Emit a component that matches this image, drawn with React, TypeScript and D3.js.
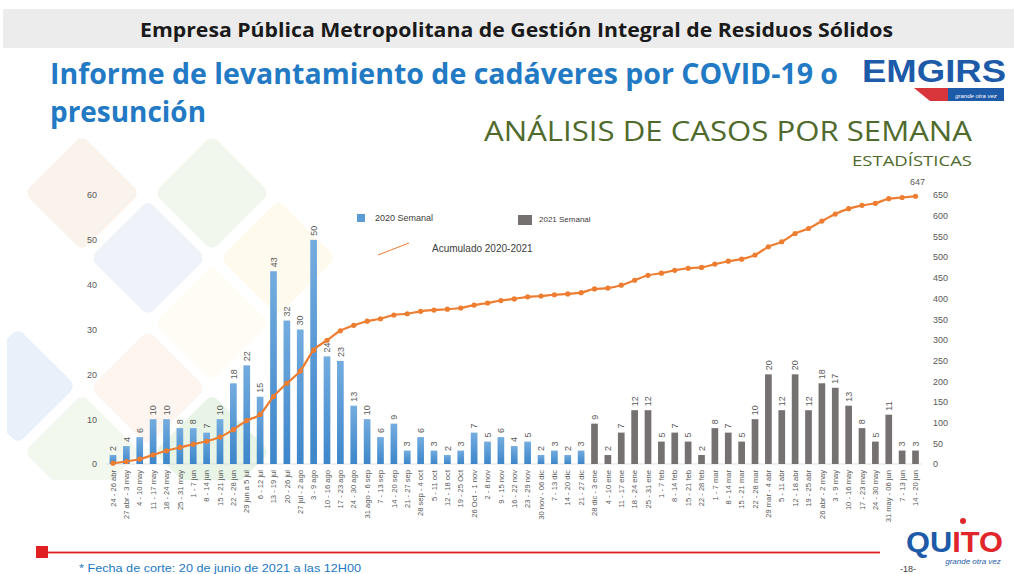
import { useEffect, useRef } from 'react';
import * as d3 from 'd3';

// weekly periods (x axis)
const weeks2020 = [
  '24 - 26 abr', '27 abr - 3 may', '4 - 10 may', '11 - 17 may', '18 - 24 may', '25 - 31 may',
  '1 - 7 jun', '8 - 14 jun', '15 - 21 jun', '22 - 28 jun', '29 jun a 5 jul', '6 - 12 jul',
  '13 - 19 jul', '20 - 26 jul', '27 jul - 2 ago', '3 - 9 ago', '10 - 16 ago', '17 - 23 ago',
  '24 - 30 ago', '31 ago - 6 sep', '7 - 13 sep', '14 - 20 sep', '21 - 27 sep', '28 sep - 4 oct',
  '5 - 11 oct', '12 - 18 oct', '19 - 25 Oct', '26 Oct - 1 nov', '2 - 8 nov', '9 - 15 nov',
  '16 - 22 nov', '23 - 29 nov', '30 nov - 06 dic', '7 - 13 dic', '14 - 20 dic', '21 - 27 dic',
];
const weeks2021 = [
  '28 dic - 3 ene', '4 - 10 ene', '11 - 17 ene', '18 - 24 ene', '25 - 31 ene', '1 - 7 feb',
  '8 - 14 feb', '15 - 21 feb', '22 - 28 feb', '1 - 7 mar', '8 - 14 mar', '15 - 21 mar',
  '22 - 28 mar', '29 mar - 4 abr', '5 - 11 abr', '12 - 18 abr', '19 - 25 abr', '26 abr - 2 may',
  '3 - 9 may', '10 - 16 may', '17 - 23 may', '24 - 30 may', '31 may - 06 jun', '7 - 13 jun',
  '14 - 20 jun',
];

const semanal2020 = [2, 4, 6, 10, 10, 8, 8, 7, 10, 18, 22, 15, 43, 32, 30, 50, 24, 23, 13, 10, 6, 9, 3, 6, 3, 2, 3, 7, 5, 6, 4, 5, 2, 3, 2, 3];
const semanal2021 = [9, 2, 7, 12, 12, 5, 7, 5, 2, 8, 7, 5, 10, 20, 12, 20, 12, 18, 17, 13, 8, 5, 11, 3, 3];

const acumulado = [
  2, 6, 12, 22, 32, 40, 48, 55, 65, 83, 105, 120, 163, 195, 225, 275, 299, 322, 335, 345, 351,
  360, 363, 369, 372, 374, 377, 384, 389, 395, 399, 404, 406, 409, 411, 414, 423, 425, 432, 444,
  456, 461, 468, 473, 475, 483, 490, 495, 505, 525, 537, 557, 569, 587, 604, 617, 625, 630, 641,
  644, 647,
];

const leftTicks = [0, 10, 20, 30, 40, 50, 60];
const rightTicks = d3.range(0, 651, 50);

// faint diamonds in the background
const diamonds = [
  { cx: 82, cy: 193, fill: '#faf3ec' },
  { cx: 212, cy: 193, fill: '#f2f7ee' },
  { cx: 148, cy: 258, fill: '#eff2f9' },
  { cx: 278, cy: 258, fill: '#fffaee' },
  { cx: 212, cy: 323, fill: '#fffcf5' },
  { cx: 148, cy: 388, fill: '#fdf5f0' },
  { cx: 18, cy: 386, fill: '#e8f0f9' },
  { cx: 82, cy: 452, fill: '#f3f8ef' },
  { cx: 212, cy: 452, fill: '#e8f4e6' },
];

const FONT = "'Open Sans', 'Liberation Sans', sans-serif";
const SMALL = "'Liberation Sans', 'DejaVu Sans', sans-serif";

export default function App() {
  const svgRef = useRef<SVGSVGElement>(null);

  useEffect(() => {
    const svg = d3.select(svgRef.current);
    svg.selectAll('*').remove();

    const width = 1014;
    const height = 574;
    svg.attr('width', width).attr('height', height).attr('viewBox', `0 0 ${width} ${height}`);

    const defs = svg.append('defs');
    const grad = defs.append('linearGradient').attr('id', 'blueGrad').attr('x1', 0).attr('y1', 0).attr('x2', 0).attr('y2', 1);
    grad.append('stop').attr('offset', '0%').attr('stop-color', '#74acdf');
    grad.append('stop').attr('offset', '100%').attr('stop-color', '#3d86ca');
    defs.append('clipPath').attr('id', 'bgClip').append('rect').attr('x', 7).attr('y', 130).attr('width', 400).attr('height', 350);

    svg.append('rect').attr('width', width).attr('height', height).attr('fill', '#ffffff');

    // background diamonds
    const bg = svg.append('g').attr('clip-path', 'url(#bgClip)');
    bg.selectAll('rect')
      .data(diamonds)
      .enter()
      .append('rect')
      .attr('x', -41)
      .attr('y', -41)
      .attr('width', 82)
      .attr('height', 82)
      .attr('rx', 8)
      .attr('fill', (d) => d.fill)
      .attr('transform', (d) => `translate(${d.cx},${d.cy}) rotate(45)`);

    // header band
    svg.append('rect').attr('x', 3).attr('y', 9).attr('width', 1011).attr('height', 39).attr('fill', '#ececec');
    svg.append('text')
      .attr('x', 140).attr('y', 37)
      .attr('textLength', 753).attr('lengthAdjust', 'spacingAndGlyphs')
      .style('font-family', FONT).style('font-size', '19px').style('font-weight', 700).style('fill', '#1a1a1a')
      .text('Empresa Pública Metropolitana de Gestión Integral de Residuos Sólidos');

    // titles
    svg.append('text')
      .attr('x', 50).attr('y', 84)
      .attr('textLength', 788).attr('lengthAdjust', 'spacingAndGlyphs')
      .style('font-family', FONT).style('font-size', '29px').style('font-weight', 700).style('fill', '#2279c4')
      .text('Informe de levantamiento de cadáveres por COVID-19 o');
    svg.append('text')
      .attr('x', 50).attr('y', 122)
      .attr('textLength', 156).attr('lengthAdjust', 'spacingAndGlyphs')
      .style('font-family', FONT).style('font-size', '29px').style('font-weight', 700).style('fill', '#2279c4')
      .text('presunción');
    svg.append('text')
      .attr('x', 484).attr('y', 141)
      .attr('textLength', 488).attr('lengthAdjust', 'spacingAndGlyphs')
      .style('font-family', FONT).style('font-size', '28px').style('font-weight', 400).style('fill', '#4f6a2c')
      .text('ANÁLISIS DE CASOS POR SEMANA');
    svg.append('text')
      .attr('x', 852).attr('y', 166)
      .attr('textLength', 120).attr('lengthAdjust', 'spacingAndGlyphs')
      .style('font-family', FONT).style('font-size', '14.5px').style('fill', '#4f6a2c')
      .text('ESTADÍSTICAS');

    // EMGIRS logo
    svg.append('text')
      .attr('x', 862).attr('y', 82)
      .attr('textLength', 144).attr('lengthAdjust', 'spacingAndGlyphs')
      .style('font-family', SMALL).style('font-size', '32px').style('font-weight', 700).style('fill', '#1d5aa8')
      .text('EMGIRS');
    svg.append('polygon').attr('points', '914,88 958,88 950,101 930,101').attr('fill', '#d8363a');
    svg.append('rect').attr('x', 948).attr('y', 88).attr('width', 56).attr('height', 13).attr('fill', '#1d5aa8');
    svg.append('text')
      .attr('x', 976).attr('y', 97.5).attr('text-anchor', 'middle')
      .style('font-family', SMALL).style('font-size', '6px').style('font-style', 'italic').style('fill', '#ffffff')
      .text('grande otra vez');

    // scales
    const categories = [...weeks2020, ...weeks2021];
    const values = [...semanal2020, ...semanal2021];
    const rows = categories.map((c, i) => ({ c, v: values[i], acc: acumulado[i], year: i < weeks2020.length ? 2020 : 2021 }));

    const x = d3.scaleBand().domain(categories).range([106.3, 922.2]).paddingInner(0.5).paddingOuter(0.25);
    const yL = d3.scaleLinear().domain([0, 60]).range([464, 195]);
    const yR = d3.scaleLinear().domain([0, 650]).range([464, 195]);
    const cx = (c: string) => (x(c) as number) + x.bandwidth() / 2;

    const plot = svg.append('g');

    // axes
    const axL = plot.append('g').attr('transform', 'translate(97,0)').call(d3.axisLeft(yL).tickValues(leftTicks).tickSize(0).tickPadding(0));
    axL.select('.domain').remove();
    axL.selectAll('text').style('font-family', SMALL).style('font-size', '9px').style('fill', '#595959');

    const axR = plot.append('g').attr('transform', 'translate(933,0)').call(d3.axisRight(yR).tickValues(rightTicks).tickSize(0).tickPadding(0));
    axR.select('.domain').remove();
    axR.selectAll('text').style('font-family', SMALL).style('font-size', '9px').style('fill', '#595959');

    plot.append('line').attr('x1', 106).attr('x2', 922).attr('y1', yL(0)).attr('y2', yL(0)).attr('stroke', '#d9d9d9').attr('stroke-width', 0.8);

    // bars
    plot.selectAll('.bar')
      .data(rows)
      .enter()
      .append('rect')
      .attr('class', 'bar')
      .attr('x', (d) => x(d.c) as number)
      .attr('width', x.bandwidth())
      .attr('y', (d) => yL(d.v))
      .attr('height', (d) => yL(0) - yL(d.v))
      .attr('fill', (d) => (d.year === 2020 ? 'url(#blueGrad)' : '#767171'));

    // bar value labels
    plot.selectAll('.vlabel')
      .data(rows)
      .enter()
      .append('text')
      .attr('class', 'vlabel')
      .attr('transform', (d) => `translate(${cx(d.c)},${yL(d.v) - 4}) rotate(-90)`)
      .attr('dy', '0.35em')
      .style('font-family', SMALL).style('font-size', '9px').style('fill', '#595959')
      .text((d) => d.v);

    // x labels
    plot.selectAll('.xlabel')
      .data(rows)
      .enter()
      .append('text')
      .attr('class', 'xlabel')
      .attr('transform', (d) => `translate(${cx(d.c)},470) rotate(-90)`)
      .attr('text-anchor', 'end')
      .attr('dy', '0.35em')
      .style('font-family', SMALL).style('font-size', '7.6px').style('fill', '#595959')
      .text((d) => d.c);

    // cumulative line
    const line = d3.line<(typeof rows)[number]>().x((d) => cx(d.c)).y((d) => yR(d.acc)).curve(d3.curveMonotoneX);
    plot.append('path').datum(rows).attr('d', line).attr('fill', 'none').attr('stroke', '#ed7d31').attr('stroke-width', 2.2);
    plot.selectAll('.dot')
      .data(rows)
      .enter()
      .append('circle')
      .attr('class', 'dot')
      .attr('cx', (d) => cx(d.c))
      .attr('cy', (d) => yR(d.acc))
      .attr('r', 2.6)
      .attr('fill', '#ed7d31');
    const last = rows[rows.length - 1];
    plot.append('text')
      .attr('x', cx(last.c) + 2).attr('y', yR(last.acc) - 11).attr('text-anchor', 'middle')
      .style('font-family', SMALL).style('font-size', '9px').style('fill', '#595959')
      .text(last.acc);

    // legend
    const lg = svg.append('g').style('font-family', SMALL);
    lg.append('rect').attr('x', 357).attr('y', 214).attr('width', 8).attr('height', 8).attr('fill', '#5b9bd5');
    lg.append('text').attr('x', 375).attr('y', 221).style('font-size', '9px').style('fill', '#404040').text('2020 Semanal');
    lg.append('rect').attr('x', 518).attr('y', 215).attr('width', 14).attr('height', 10).attr('fill', '#767171');
    lg.append('text').attr('x', 539).attr('y', 222).style('font-size', '8px').style('fill', '#404040').text('2021 Semanal');
    lg.append('line').attr('x1', 378).attr('y1', 255).attr('x2', 409).attr('y2', 243).attr('stroke', '#ed7d31').attr('stroke-width', 1);
    lg.append('text').attr('x', 432).attr('y', 252).style('font-size', '10px').style('fill', '#404040').text('Acumulado 2020-2021');

    // footer
    svg.append('line').attr('x1', 45).attr('x2', 880).attr('y1', 552.5).attr('y2', 552.5).attr('stroke', '#f3a3a3').attr('stroke-width', 3);
    svg.append('line').attr('x1', 45).attr('x2', 880).attr('y1', 552.5).attr('y2', 552.5).attr('stroke', '#e02020').attr('stroke-width', 1.2);
    svg.append('rect').attr('x', 36).attr('y', 546).attr('width', 12).attr('height', 12).attr('fill', '#e02020');
    svg.append('text')
      .attr('x', 79).attr('y', 572)
      .attr('textLength', 282).attr('lengthAdjust', 'spacingAndGlyphs')
      .style('font-family', SMALL).style('font-size', '11px').style('fill', '#2279c4')
      .text('* Fecha de corte: 20 de junio de 2021 a las 12H00');
    svg.append('text')
      .attr('x', 900).attr('y', 572)
      .style('font-family', SMALL).style('font-size', '9px').style('fill', '#404040')
      .text('-18-');

    // QUITO logo
    const q = svg.append('text')
      .attr('x', 906).attr('y', 552)
      .attr('textLength', 97).attr('lengthAdjust', 'spacingAndGlyphs')
      .style('font-family', SMALL).style('font-size', '29px').style('font-weight', 700);
    q.append('tspan').style('fill', '#1d5aa8').text('QU');
    q.append('tspan').style('fill', '#e0262b').text('ITO');
    svg.append('circle').attr('cx', 963).attr('cy', 521).attr('r', 3).attr('fill', '#e0262b');
    svg.append('text')
      .attr('x', 973).attr('y', 564).attr('text-anchor', 'middle')
      .style('font-family', SMALL).style('font-size', '8px').style('font-style', 'italic').style('fill', '#1d5aa8')
      .text('grande otra vez');
  }, []);

  return <svg ref={svgRef} style={{ position: 'absolute', left: 0, top: 0, display: 'block' }}></svg>;
}
